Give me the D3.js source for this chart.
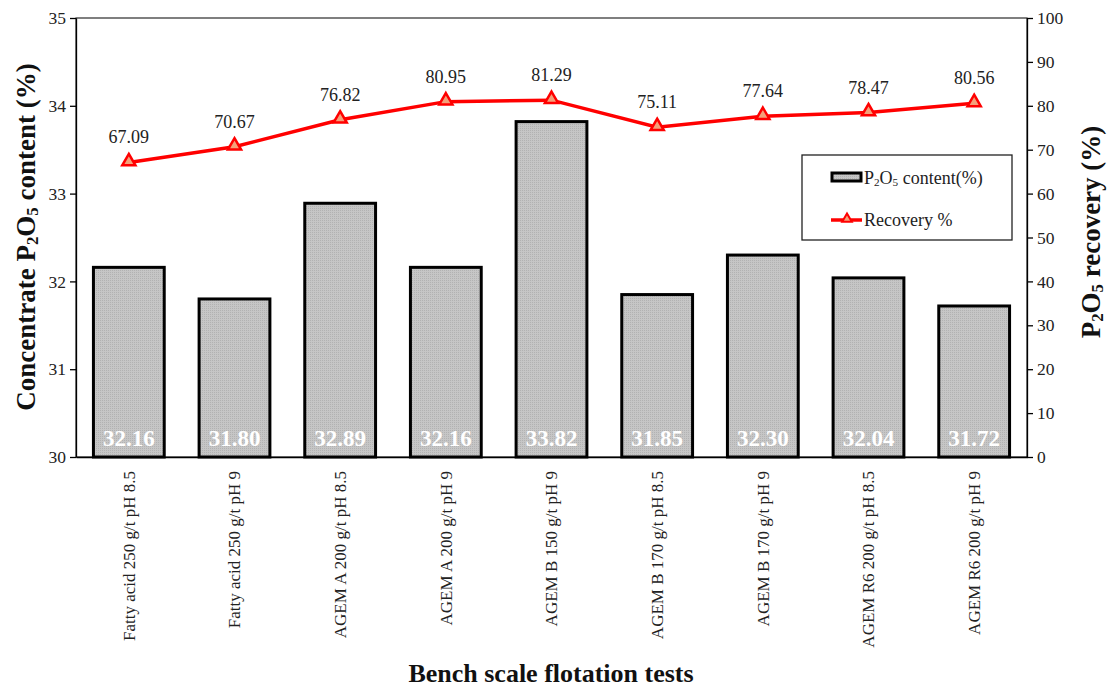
<!DOCTYPE html>
<html><head><meta charset="utf-8">
<script src="https://cdn.jsdelivr.net/npm/d3@7"></script>
<style>body{margin:0;background:#fff}svg{display:block}text{font-family:"Liberation Serif","Times New Roman",serif}</style>
</head><body><svg id="c" width="1109" height="689"></svg>
<script>
const categories = ["Fatty acid 250 g/t pH 8.5","Fatty acid 250 g/t pH 9","AGEM A 200 g/t pH 8.5","AGEM A 200 g/t pH 9","AGEM B 150 g/t pH 9","AGEM B 170 g/t pH 8.5","AGEM B 170 g/t pH 9","AGEM R6 200 g/t pH 8.5","AGEM R6 200 g/t pH 9"];
const contentValues = [32.16,31.80,32.89,32.16,33.82,31.85,32.30,32.04,31.72];
const recoveryValues = [67.09,70.67,76.82,80.95,81.29,75.11,77.64,78.47,80.56];
const leftTicks = [30,31,32,33,34,35];
const rightTicks = [0,10,20,30,40,50,60,70,80,90,100];

const svg = d3.select("#c");
const L=76,R=1027,T=18,B=457;
const x = d3.scaleBand().domain(categories).range([L,R]).paddingInner(0.33).paddingOuter(0.165);
const yL = d3.scaleLinear().domain([30,35]).range([B,T]);
const yR = d3.scaleLinear().domain([0,100]).range([B,T]);

// plot border
svg.append("rect").attr("x",L).attr("y",T).attr("width",R-L).attr("height",B-T).attr("fill","none").attr("stroke","#000").attr("stroke-width",1);

// pattern for bars
const defs=svg.append("defs");
const pat=defs.append("pattern").attr("id","dots").attr("width",2).attr("height",2).attr("patternUnits","userSpaceOnUse");
pat.append("rect").attr("width",2).attr("height",2).attr("fill","#c6c6c6");
pat.append("rect").attr("width",1).attr("height",1).attr("fill","#b2b2b2");

// bars
svg.append("g").selectAll("rect").data(contentValues).join("rect")
  .attr("x",(d,i)=>x(categories[i])).attr("width",x.bandwidth())
  .attr("y",d=>yL(d)).attr("height",d=>B-yL(d))
  .attr("fill","url(#dots)").attr("stroke","#000").attr("stroke-width",3);

svg.append("g").selectAll("text").data(contentValues).join("text")
  .attr("x",(d,i)=>x(categories[i])+x.bandwidth()/2).attr("y",B-11)
  .attr("text-anchor","middle").attr("fill","#fff").attr("font-weight","bold").attr("font-size",23)
  .text(d=>d.toFixed(2));

// axes
const axL=svg.append("g").attr("transform",`translate(${L},0)`).call(d3.axisLeft(yL).tickValues(leftTicks).tickSize(6).tickSizeOuter(0).tickFormat(d3.format("d")));
const axR=svg.append("g").attr("transform",`translate(${R},0)`).call(d3.axisRight(yR).tickValues(rightTicks).tickSize(6).tickSizeOuter(0).tickFormat(d3.format("d")));
const axB=svg.append("g").attr("transform",`translate(0,${B})`).call(d3.axisBottom(x).tickSize(0).tickSizeOuter(0));
[axL,axR,axB].forEach(a=>{a.attr("font-family",null);a.selectAll("path").attr("stroke","#000").attr("stroke-width",1.3);a.selectAll("line").attr("stroke","#000").attr("stroke-width",1.3);a.selectAll("text").attr("font-size",17.5).attr("fill","#222");});
axL.selectAll("text").attr("x",-10);
axR.selectAll("text").attr("x",10);
axB.selectAll("text").attr("font-size",17).attr("transform","rotate(-90)").attr("text-anchor","end").attr("x",-14).attr("y",0).attr("dy","0.35em");

// line
const cx=(i)=>x(categories[i])+x.bandwidth()/2;
const line=d3.line().x((d,i)=>cx(i)).y(d=>yR(d));
svg.append("path").datum(recoveryValues).attr("d",line).attr("fill","none").attr("stroke","#ff0000").attr("stroke-width",3.5);
const tri=d3.symbol().type(d3.symbolTriangle).size(75);
svg.append("g").selectAll("path").data(recoveryValues).join("path")
  .attr("d",tri).attr("transform",(d,i)=>`translate(${cx(i)},${yR(d)-1})`)
  .attr("fill","#f4a07a").attr("stroke","#ff0000").attr("stroke-width",2.5);
svg.append("g").selectAll("text").data(recoveryValues).join("text")
  .attr("x",(d,i)=>cx(i)).attr("y",d=>yR(d)-19).attr("text-anchor","middle").attr("font-size",18).attr("fill","#222")
  .text(d=>d.toFixed(2));

// titles
function p2o5(t,size){
  t.append("tspan").text("P");
  t.append("tspan").text("2").attr("font-size",size*0.62).attr("dy",size*0.12);
  t.append("tspan").text("O").attr("dy",-size*0.12);
  t.append("tspan").text("5").attr("font-size",size*0.62).attr("dy",size*0.12);
}
const tl=svg.append("text").attr("transform",`translate(35,237) rotate(-90)`).attr("text-anchor","middle").attr("font-weight","bold").attr("font-size",27).attr("fill","#111");
tl.append("tspan").text("Concentrate ");
p2o5(tl,27);
tl.append("tspan").text(" content (%)").attr("dy",-27*0.12);
const tr=svg.append("text").attr("transform",`translate(1100,232) rotate(-90)`).attr("text-anchor","middle").attr("font-weight","bold").attr("font-size",27).attr("fill","#111");
p2o5(tr,27);
tr.append("tspan").text(" recovery (%)").attr("dy",-27*0.12);
svg.append("text").attr("x",551).attr("y",682).attr("text-anchor","middle").attr("font-weight","bold").attr("font-size",26).attr("fill","#111").text("Bench scale flotation tests");

// legend
const lg=svg.append("g");
lg.append("rect").attr("x",802).attr("y",155).attr("width",210).attr("height",85).attr("fill","#fff").attr("stroke","#222").attr("stroke-width",1.3);
lg.append("rect").attr("x",832).attr("y",173).attr("width",29).attr("height",8).attr("fill","url(#dots)").attr("stroke","#000").attr("stroke-width",3);
const lt=lg.append("text").attr("x",864).attr("y",184).attr("font-size",18).attr("fill","#222");
p2o5(lt,18); lt.append("tspan").text(" content(%)").attr("dy",-18*0.12);
lg.append("line").attr("x1",831).attr("x2",862).attr("y1",220).attr("y2",220).attr("stroke","#ff0000").attr("stroke-width",3.5);
lg.append("path").attr("d",d3.symbol().type(d3.symbolTriangle).size(40)).attr("transform","translate(847,219)").attr("fill","#f4a07a").attr("stroke","#ff0000").attr("stroke-width",2);
lg.append("text").attr("x",864).attr("y",226).attr("font-size",18).attr("fill","#222").text("Recovery %");
</script></body></html>
